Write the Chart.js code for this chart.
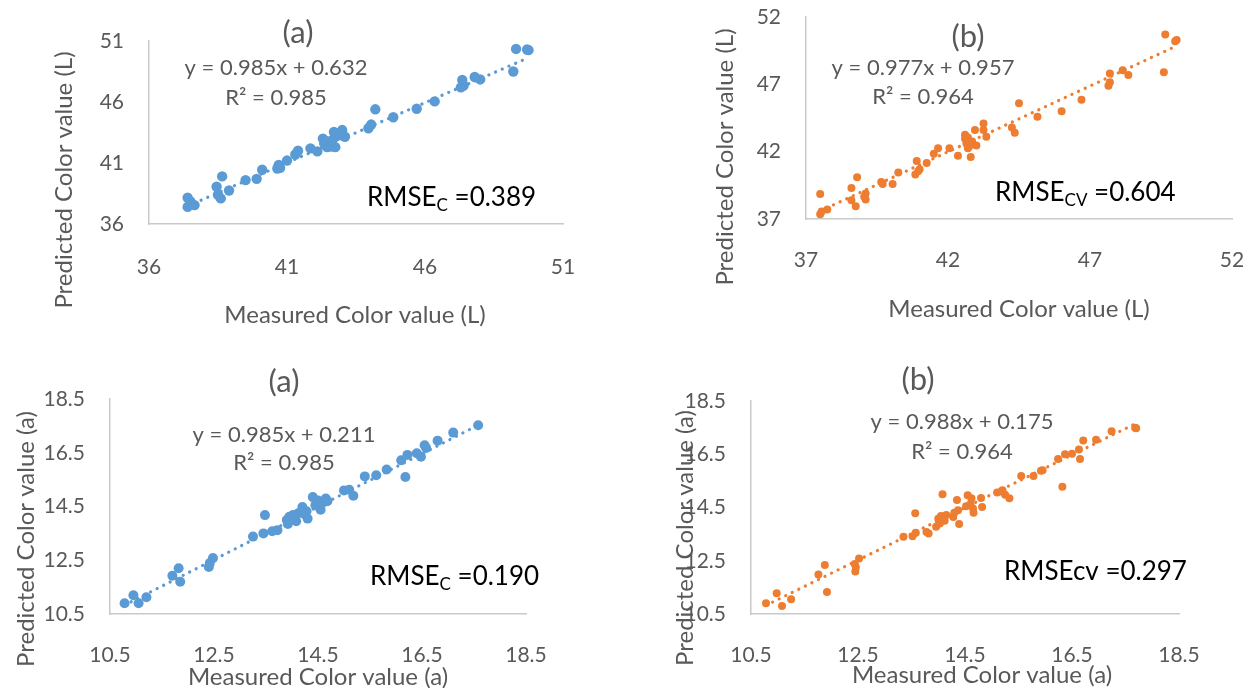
<!DOCTYPE html>
<html>
<head>
<meta charset="utf-8">
<title>Measured vs predicted colour values</title>
<script src="https://cdn.jsdelivr.net/npm/chart.js@4.4.0/dist/chart.umd.min.js"></script>
<style>
  html, body { margin: 0; padding: 0; background: #fff; }
  #wrap { position: relative; width: 1252px; height: 688px; overflow: hidden; }
  #wrap canvas { position: absolute; left: 0; top: 0; }
</style>
</head>
<body>
<div id="wrap">
  <canvas id="calL" width="1252" height="688"></canvas>
  <canvas id="cvL" width="1252" height="688"></canvas>
  <canvas id="calA" width="1252" height="688"></canvas>
  <canvas id="cvA" width="1252" height="688"></canvas>
</div>
<script>
// [measured, predicted] pairs
const calL = [
  [37.40,38.15],[37.40,37.40],[37.55,37.65],[37.65,37.55],[37.50,37.85],
  [38.45,39.05],[38.65,39.90],[38.50,38.40],[38.60,38.10],[38.90,38.75],
  [39.50,39.60],[39.90,39.70],[40.10,40.45],[40.65,40.55],[40.70,40.85],[40.75,40.60],
  [41.00,41.20],[41.30,41.70],[41.40,42.00],[41.85,42.20],[42.10,41.95],
  [42.30,43.00],[42.35,42.60],[42.45,42.30],[42.55,42.60],[42.40,42.80],[42.60,42.35],
  [42.70,43.55],[42.75,42.30],[42.65,42.90],[42.50,42.50],[42.80,43.20],[43.00,43.70],
  [43.10,43.15],[42.90,43.35],
  [43.95,43.85],[44.05,44.15],[44.20,45.40],[44.85,44.75],[45.70,45.45],[46.35,46.05],
  [47.30,47.20],[47.35,47.80],[47.40,47.35],[47.80,48.05],[48.00,47.85],
  [49.20,48.50],[49.30,50.35],[49.70,50.30],[49.75,50.25]
];
const cvL = [
  [37.50,38.85],[37.50,37.35],[37.55,37.55],[37.75,37.70],
  [38.60,39.30],[38.80,40.10],[38.60,38.40],[38.75,37.95],[39.10,38.90],[39.10,38.45],[39.05,38.65],
  [39.65,39.75],[39.70,39.60],[40.05,39.60],[40.25,40.45],[40.85,40.30],[40.90,41.30],
  [41.00,40.70],[40.95,40.55],[41.25,41.15],
  [41.50,41.85],[41.65,42.25],[42.05,42.25],[42.35,41.70],
  [42.60,43.25],[42.65,42.60],[42.70,42.25],[42.75,42.40],[42.80,41.60],[42.95,43.60],
  [43.00,42.45],[42.60,42.95],[42.70,43.05],[43.25,43.60],[43.25,44.10],[43.35,43.10],[42.85,42.75],
  [44.25,43.80],[44.35,43.40],[44.50,45.60],[45.15,44.60],[46.00,45.00],[46.70,45.85],
  [47.65,46.90],[47.70,47.15],[47.70,47.80],[48.15,48.05],[48.35,47.70],
  [49.60,47.90],[49.65,50.70],[50.05,50.30],[50.00,50.20]
];
const calA = [
  [10.78,10.90],[10.95,11.20],[11.05,10.90],[11.20,11.12],
  [11.70,11.92],[11.82,12.20],[11.85,11.70],[12.40,12.25],[12.42,12.40],[12.48,12.58],
  [13.25,13.38],[13.45,13.50],[13.48,14.18],[13.62,13.58],[13.72,13.62],
  [13.90,14.00],[13.92,13.85],[13.95,14.12],[14.02,14.18],[14.05,14.05],[14.08,13.95],
  [14.12,14.25],[14.20,14.48],[14.25,14.20],[14.28,14.32],[14.30,14.05],[14.40,14.85],
  [14.45,14.55],[14.55,14.38],[14.58,14.62],[14.65,14.80],[14.68,14.70],[14.50,14.72],
  [15.00,15.10],[15.10,15.12],[15.18,14.90],
  [15.40,15.62],[15.62,15.66],[15.82,15.88],[16.10,16.22],[16.18,15.60],[16.22,16.42],
  [16.40,16.48],[16.48,16.35],[16.55,16.78],[16.58,16.68],
  [16.80,16.95],[17.10,17.25],[17.58,17.52]
];
const cvA = [
  [10.78,10.90],[10.98,11.28],[11.08,10.80],[11.25,11.05],
  [11.76,11.98],[11.88,12.34],[11.92,11.33],[12.44,12.38],[12.45,12.10],[12.46,12.25],[12.52,12.58],
  [13.35,13.40],[13.52,13.42],[13.57,14.28],[13.58,13.55],[13.78,13.58],[13.82,13.52],
  [13.96,13.78],[14.00,14.08],[14.03,13.90],[14.05,14.18],[14.08,15.00],[14.15,14.22],
  [14.12,14.00],[14.28,14.14],[14.35,14.78],[14.37,14.40],[14.39,13.88],[14.30,14.30],
  [14.52,14.55],[14.55,14.96],[14.62,14.85],[14.65,14.46],[14.66,14.30],[14.80,14.86],
  [14.82,14.52],[14.60,14.62],
  [15.10,15.06],[15.20,15.15],[15.25,14.98],[15.33,14.85],[15.18,15.10],
  [15.55,15.68],[15.78,15.68],[15.95,15.90],[15.92,15.88],
  [16.24,16.32],[16.32,15.28],[16.37,16.50],[16.50,16.52],[16.63,16.68],[16.65,16.32],
  [16.71,17.02],[16.95,17.04],[17.24,17.36],[17.68,17.50],[17.70,17.48]
];

// linear fits and errors, same order as the panels
const fitSlope = [0.985, 0.977, 0.985, 0.988];
const fitIntercept = [0.632, 0.957, 0.211, 0.175];
const fitR2 = [0.985, 0.964, 0.985, 0.964];
const rmseValue = [0.389, 0.604, 0.190, 0.297];
const rmseName = [["RMSE", "C"], ["RMSE", "CV"], ["RMSE", "C"], ["RMSEcv", ""]];
const panelTitles = ["(a)", "(b)", "(a)", "(b)"];

// axis ticks
const ticksL1 = [36, 41, 46, 51];
const ticksL2 = [37, 42, 47, 52];
const ticksA = [10.5, 12.5, 14.5, 16.5, 18.5];

const BLUE = "#5b9bd5";
const ORANGE = "#ed7d31";
const GREY = "#595959";
const FONT = "Lato";
const Y_BOX = 80;   // room left of each plot for the y tick labels
const X_BOX = 56;   // room under each plot for the x tick labels

// where each panel sits on the page
const panels = [
  { id: "calL", pts: calL, ticks: ticksL1, color: BLUE, r: 5.2,
    area: { l: 149, t: 41, r: 563, b: 224 }, xPad: 31,
    titleAt: [298, 33], eqAt: [276, 68], eqGap: 30, rmseAt: [367, 198],
    yTitle: "Predicted Color value (L)", yTitleAt: [64, 180],
    xTitle: "Measured Color value (L)", xTitleAt: [355, 315] },
  { id: "cvL", pts: cvL, ticks: ticksL2, color: ORANGE, r: 4,
    area: { l: 806, t: 17, r: 1232, b: 219 }, xPad: 29,
    titleAt: [968, 37], eqAt: [923, 68], eqGap: 29, rmseAt: [995, 193],
    yTitle: "Predicted Color value (L)", yTitleAt: [725, 157],
    xTitle: "Measured Color value (L)", xTitleAt: [1019, 309] },
  { id: "calA", pts: calA, ticks: ticksA, color: BLUE, r: 5,
    area: { l: 110, t: 399, r: 526, b: 614 }, xPad: 29,
    titleAt: [284, 382], eqAt: [284, 435], eqGap: 28, rmseAt: [370, 577],
    yTitle: "Predicted Color value (a)", yTitleAt: [26, 539],
    xTitle: "Measured Color value (a)", xTitleAt: [318, 677] },
  { id: "cvA", pts: cvA, ticks: ticksA, color: ORANGE, r: 4,
    area: { l: 751, t: 401, r: 1179, b: 614 }, xPad: 29,
    titleAt: [918, 380], eqAt: [962, 422], eqGap: 30, rmseAt: [1004, 572],
    yTitle: "Predicted Color value (a)", yTitleAt: [685, 538],
    xTitle: "Measured Color value (a)", xTitleAt: [982, 675] }
];

// titles, fit equation, RMSE and axis titles drawn on top of each panel
const panelText = {
  id: "panelText",
  afterDraw(chart, args, o) {
    const ctx = chart.ctx;
    ctx.save();
    ctx.fillStyle = GREY;
    ctx.textAlign = "center";
    ctx.textBaseline = "middle";

    ctx.font = `31px ${FONT}`;
    ctx.fillText(o.title, o.titleAt[0], o.titleAt[1]);

    ctx.font = `22px ${FONT}`;
    ctx.fillText(o.eq, o.eqAt[0], o.eqAt[1]);
    ctx.fillText(o.r2, o.eqAt[0], o.eqAt[1] + o.eqGap);

    ctx.font = `24px ${FONT}`;
    ctx.fillText(o.xTitle, o.xTitleAt[0], o.xTitleAt[1]);
    ctx.save();
    ctx.translate(o.yTitleAt[0], o.yTitleAt[1]);
    ctx.rotate(-Math.PI / 2);
    ctx.fillText(o.yTitle, 0, 0);
    ctx.restore();

    // RMSE with optional subscript
    ctx.fillStyle = "#000";
    ctx.textAlign = "left";
    let x = o.rmseAt[0];
    const y = o.rmseAt[1];
    ctx.font = `26px ${FONT}`;
    ctx.fillText(o.rmse[0], x, y);
    x += ctx.measureText(o.rmse[0]).width;
    if (o.rmse[1]) {
      ctx.font = `17px ${FONT}`;
      ctx.fillText(o.rmse[1], x, y + 8);
      x += ctx.measureText(o.rmse[1]).width;
    }
    ctx.font = `26px ${FONT}`;
    ctx.fillText(" =" + o.rmseText, x, y);
    ctx.restore();
  }
};

function fixedScale(ticks, pos, pad) {
  return {
    type: "linear",
    position: pos,
    min: ticks[0],
    max: ticks[ticks.length - 1],
    afterBuildTicks: (s) => { s.ticks = ticks.map(v => ({ value: v })); },
    afterFit: (s) => {
      if (pos === "left") s.width = Y_BOX; else s.height = X_BOX;
      s.paddingLeft = s.paddingRight = s.paddingTop = s.paddingBottom = 0;
    },
    grid: { display: false, drawTicks: false },
    border: { display: true, color: "#c9c9c9", width: 1.5 },
    ticks: {
      color: GREY,
      padding: pad,
      autoSkip: false,
      maxRotation: 0,
      font: { family: FONT, size: 21 },
      callback: (v) => String(v)
    }
  };
}

panels.forEach((p, i) => {
  const xs = p.pts.map(d => d[0]);
  const xMin = Math.min(...xs), xMax = Math.max(...xs);
  const fitLine = [xMin, xMax].map(x => ({ x, y: fitSlope[i] * x + fitIntercept[i] }));

  new Chart(document.getElementById(p.id), {
    type: "scatter",
    data: {
      datasets: [
        {
          type: "line",
          data: fitLine,
          borderColor: p.color,
          borderWidth: 3.2,
          borderDash: [0.1, 7.2],
          borderCapStyle: "round",
          pointRadius: 0,
          fill: false
        },
        {
          data: p.pts.map(d => ({ x: d[0], y: d[1] })),
          backgroundColor: p.color,
          borderColor: p.color,
          borderWidth: 0,
          pointRadius: p.r
        }
      ]
    },
    options: {
      responsive: false,
      animation: false,
      events: [],
      layout: {
        padding: {
          left: p.area.l - Y_BOX,
          top: p.area.t,
          right: 1252 - p.area.r,
          bottom: 688 - p.area.b - X_BOX
        }
      },
      scales: {
        x: fixedScale(p.ticks, "bottom", p.xPad),
        y: fixedScale(p.ticks, "left", 25)
      },
      plugins: {
        legend: { display: false },
        tooltip: { enabled: false },
        panelText: {
          title: panelTitles[i],
          titleAt: p.titleAt,
          eq: `y = ${fitSlope[i].toFixed(3)}x + ${fitIntercept[i].toFixed(3)}`,
          r2: `R² = ${fitR2[i].toFixed(3)}`,
          eqAt: p.eqAt,
          eqGap: p.eqGap,
          rmse: rmseName[i],
          rmseText: rmseValue[i].toFixed(3),
          rmseAt: p.rmseAt,
          xTitle: p.xTitle, xTitleAt: p.xTitleAt,
          yTitle: p.yTitle, yTitleAt: p.yTitleAt
        }
      }
    },
    plugins: [panelText]
  });
});
</script>
</body>
</html>
